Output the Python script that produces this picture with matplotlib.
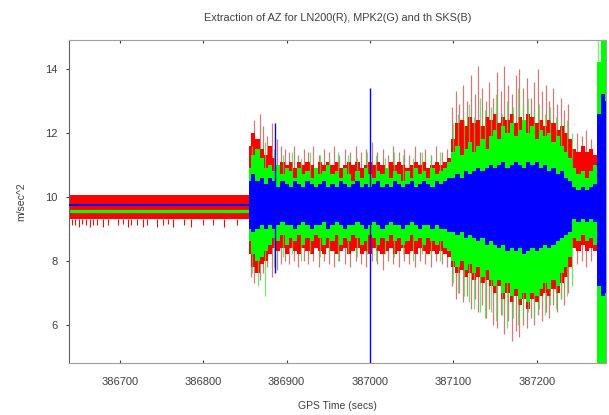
import matplotlib
matplotlib.use('Agg')
import matplotlib.pyplot as plt

plt.rcParams['font.family'] = ['Liberation Sans', 'DejaVu Sans']

# tempo GPS (s) das amostras do envelope na parte dinamica
tempos = [386855, 386860, 386865, 386870, 386875, 386880, 386885, 386890, 386895, 386900,
          386905, 386910, 386915, 386920, 386925, 386930, 386935, 386940, 386945, 386950,
          386955, 386960, 386965, 386970, 386975, 386980, 386985, 386990, 386995, 387000,
          387005, 387010, 387015, 387020, 387025, 387030, 387035, 387040, 387045, 387050,
          387055, 387060, 387065, 387070, 387075, 387080, 387085, 387090, 387095,
          387100, 387105, 387110, 387115, 387120, 387125, 387130, 387135, 387140, 387145,
          387150, 387155, 387160, 387165, 387170, 387175, 387180, 387185, 387190, 387195,
          387200, 387205, 387210, 387215, 387220, 387225, 387230, 387235, 387240,
          387245, 387250, 387255, 387260, 387265, 387270,
          387275, 387280, 387283]

# envelopes (m/sec^2) de cada sensor
sks_max = [10.5, 10.7, 10.5, 10.6, 10.4, 10.6, 10.5, 10.3, 10.5, 10.4,
           10.3, 10.5, 10.4, 10.3, 10.5, 10.4, 10.3, 10.4, 10.5, 10.3,
           10.4, 10.3, 10.5, 10.4, 10.3, 10.4, 10.5, 10.3, 10.4, 10.3,
           10.4, 10.5, 10.3, 10.4, 10.3, 10.5, 10.4, 10.3, 10.4, 10.5,
           10.3, 10.4, 10.5, 10.4, 10.3, 10.5, 10.4, 10.5, 10.6,
           10.6, 10.7, 10.6, 10.8, 10.7, 10.8, 10.9, 10.8, 10.9, 11.0,
           10.9, 11.0, 11.1, 10.9, 11.0, 11.1, 11.0, 10.9, 11.1, 11.0,
           11.1, 10.9, 11.0, 10.8, 10.9, 10.7, 10.8, 10.6, 10.5,
           10.3, 10.2, 10.3, 10.2, 10.3, 10.4,
           12.6, 13.2, 13.0]
sks_min = [9.0, 8.9, 9.0, 9.1, 9.0, 9.1, 9.0, 9.1, 9.2, 9.1,
           9.1, 9.0, 9.1, 9.2, 9.1, 9.0, 9.1, 9.1, 9.2, 9.0,
           9.1, 9.2, 9.1, 9.0, 9.1, 9.1, 9.2, 9.1, 9.0, 9.1,
           9.2, 9.1, 9.0, 9.1, 9.2, 9.1, 9.1, 9.0, 9.1, 9.2,
           9.1, 9.0, 9.1, 9.1, 9.0, 9.1, 9.0, 9.0, 8.9,
           8.9, 8.8, 8.9, 8.7, 8.8, 8.7, 8.6, 8.7, 8.5, 8.6,
           8.5, 8.4, 8.5, 8.3, 8.4, 8.3, 8.4, 8.2, 8.3, 8.4,
           8.3, 8.4, 8.5, 8.4, 8.5, 8.6, 8.7, 8.8, 8.9,
           9.3, 9.2, 9.3, 9.2, 9.3, 9.2,
           7.2, 6.9, 7.0]
mpk2_max = [10.9, 11.3, 11.5, 11.2, 10.9, 11.0, 10.8, 11.0, 10.7, 10.9,
            10.8, 10.6, 10.9, 10.7, 10.8, 10.6, 10.9, 10.7, 10.8, 11.0,
            10.7, 10.8, 10.6, 10.9, 10.7, 10.5, 10.8, 10.6, 10.9, 10.7,
            10.6, 10.8, 10.7, 10.9, 10.6, 10.8, 10.7, 10.5, 10.8, 10.6,
            10.9, 10.7, 10.8, 10.6, 10.9, 10.7, 10.8, 10.9, 11.1,
            11.4, 11.6, 11.3, 11.5, 11.7, 11.4, 11.6, 11.8, 11.5, 11.9,
            12.1, 11.8, 12.2, 12.0, 12.3, 11.9, 12.1, 12.4, 12.0, 12.2,
            11.8, 12.1, 11.9, 12.0, 11.7, 11.9, 11.6, 11.4, 11.2,
            10.9, 10.7, 10.8, 10.6, 10.8, 11.0,
            14.2, 14.9, 14.9]
mpk2_min = [8.6, 8.2, 8.0, 8.1, 8.3, 8.5, 8.7, 8.6, 8.8, 8.5,
            8.7, 8.6, 8.8, 8.5, 8.7, 8.6, 8.8, 8.7, 8.5, 8.7,
            8.6, 8.8, 8.5, 8.7, 8.6, 8.8, 8.7, 8.5, 8.6, 8.8,
            8.7, 8.5, 8.7, 8.6, 8.8, 8.6, 8.7, 8.5, 8.6, 8.8,
            8.6, 8.7, 8.5, 8.7, 8.6, 8.5, 8.6, 8.4, 8.3,
            8.0, 7.8, 8.0, 7.7, 7.9, 7.6, 7.8, 7.5, 7.7, 7.4,
            7.2, 7.4, 7.0, 7.3, 6.9, 7.1, 6.8, 7.0, 6.7, 7.0,
            6.9, 7.1, 7.3, 7.1, 7.4, 7.2, 7.6, 7.8, 8.1,
            8.7, 8.6, 8.8, 8.6, 8.7, 8.5,
            4.8, 4.8, 4.8]
ln200_max = [11.6, 12.0, 11.8, 11.5, 11.3, 11.6, 11.2, 11.0, 11.1, 11.0,
             11.1, 10.9, 11.1, 11.0, 11.1, 11.0, 10.9, 11.1, 11.0, 11.1,
             11.0, 11.1, 10.9, 11.0, 11.1, 11.0, 11.1, 10.9, 11.0, 11.1,
             11.0, 11.1, 11.0, 10.9, 11.1, 11.0, 11.1, 11.0, 10.9, 11.0,
             11.1, 11.0, 11.1, 10.9, 11.0, 11.1, 11.0, 11.1, 11.2,
             11.8, 12.3, 12.4, 12.2, 12.5, 12.3, 12.4, 12.2, 12.5, 12.4,
             12.6, 12.3, 12.5, 12.4, 12.6, 12.3, 12.5, 12.4, 12.6, 12.5,
             12.3, 12.4, 12.2, 12.4, 12.3, 12.1, 12.2, 12.0, 11.8,
             11.5, 11.4, 11.6, 11.4, 11.5, 11.3,
             11.2, 11.0, 11.0]
ln200_min = [8.2, 7.8, 7.6, 7.9, 8.0, 8.2, 8.4, 8.3, 8.4, 8.2,
             8.4, 8.3, 8.2, 8.4, 8.3, 8.2, 8.4, 8.3, 8.2, 8.4,
             8.3, 8.2, 8.3, 8.4, 8.2, 8.3, 8.4, 8.2, 8.3, 8.2,
             8.4, 8.3, 8.2, 8.3, 8.4, 8.2, 8.3, 8.4, 8.2, 8.3,
             8.2, 8.4, 8.3, 8.2, 8.3, 8.2, 8.3, 8.2, 8.1,
             7.8, 7.6, 7.7, 7.5, 7.6, 7.4, 7.5, 7.3, 7.4, 7.2,
             7.0, 7.2, 6.8, 7.0, 6.7, 6.9, 6.6, 6.8, 6.5, 6.8,
             6.7, 6.9, 7.0, 6.9, 7.1, 7.0, 7.3, 7.5, 7.8,
             8.4, 8.3, 8.5, 8.3, 8.4, 8.3,
             8.0, 8.0, 8.0]

# trecho parado (antes de 386855)
parado_t = [386639, 386855]
ln200_parado = (9.3, 10.05)
mpk2_parado = 9.56
sks_parado = 9.75
ln200_parado_picos_t = [386642, 386646, 386651, 386654, 386659, 386664, 386668, 386672,
                        386680, 386686, 386698, 386704, 386710, 386713, 386721, 386728,
                        386733, 386745, 386752, 386758, 386764, 386777, 386785, 386800,
                        386812, 386825, 386840]
ln200_parado_picos_v = [9.1, 9.1, 9.05, 9.15, 9.1, 9.05, 9.1, 9.1,
                        9.05, 9.1, 9.1, 9.15, 9.05, 9.1, 9.1, 9.05,
                        9.1, 9.05, 9.1, 9.15, 9.05, 9.1, 9.05, 9.1,
                        9.1, 9.05, 9.1]

# picos do LN200 (vermelho)
ln200_picos_t = [386857, 386861, 386864, 386868, 386872, 386877, 386882, 386888, 386893,
                 386898, 386903, 386909, 386914, 386921, 386926, 386932, 386939, 386945,
                 386951, 386957, 386963, 386970, 386976, 386983, 386989, 386995, 387003,
                 387009, 387016, 387022, 387028, 387035, 387041, 387047, 387054, 387060,
                 387066, 387073, 387079, 387086, 387092,
                 387098, 387103, 387107, 387112, 387116, 387121, 387126, 387130, 387134,
                 387139, 387143, 387148, 387152, 387157, 387161, 387166, 387170, 387175,
                 387179, 387184, 387188, 387193, 387197, 387202, 387206, 387211, 387215,
                 387220, 387224, 387229, 387233, 387238,
                 387248, 387254, 387259, 387265]
ln200_picos_max = [12.0, 12.4, 11.8, 12.6, 12.2, 11.9, 12.3, 11.8, 11.6,
                   11.5, 11.4, 11.6, 11.3, 11.5, 11.4, 11.6, 11.3, 11.5,
                   11.4, 11.6, 11.3, 11.5, 11.4, 11.6, 11.4, 11.5, 11.7,
                   11.4, 11.5, 11.3, 11.6, 11.4, 11.5, 11.3, 11.6, 11.4,
                   11.5, 11.3, 11.6, 11.4, 11.5,
                   12.8, 13.3, 12.9, 13.5, 13.0, 13.8, 13.2, 14.1, 13.4,
                   13.0, 13.6, 13.1, 13.9, 13.3, 14.1, 13.5, 13.2, 13.8,
                   14.0, 13.4, 13.7, 13.1, 13.6, 14.0, 13.3, 13.5, 13.0,
                   13.4, 12.9, 13.1, 12.7, 12.9,
                   12.0, 11.9, 12.1, 11.8]
ln200_picos_min = [7.5, 7.3, 7.7, 7.4, 7.6, 7.8, 7.5, 7.7, 7.9,
                   8.0, 7.9, 8.0, 7.8, 8.0, 7.9, 8.0, 7.8, 8.0,
                   7.9, 7.8, 8.0, 7.9, 7.8, 8.0, 7.9, 7.8, 8.0,
                   7.9, 7.7, 8.0, 7.9, 7.8, 8.0, 7.9, 7.8, 8.0,
                   7.9, 7.8, 8.0, 7.9, 7.8,
                   7.2, 6.8, 7.0, 6.7, 6.9, 6.5, 6.8, 6.4, 6.6,
                   6.2, 6.5, 6.0, 5.9, 6.3, 5.7, 6.1, 5.5, 5.8,
                   5.6, 6.0, 5.9, 6.2, 6.0, 6.3, 6.1, 6.4, 6.2,
                   6.6, 6.4, 6.8, 6.6, 7.0,
                   7.9, 8.0, 7.8, 8.0]

# picos do MPK2 (verde)
mpk2_picos_t = [386858, 386866, 386874, 386885, 386896, 386906, 386917, 386928, 386940,
                386951, 386962, 386974, 386985, 386996, 387007, 387018, 387029, 387040,
                387051, 387062, 387073, 387084,
                387100, 387106, 387113, 387119, 387125, 387132, 387138, 387145, 387151,
                387158, 387164, 387171, 387177, 387184, 387190, 387197, 387203, 387210,
                387216, 387223, 387229, 387236, 387242]
mpk2_picos_max = [11.6, 11.4, 11.7, 11.5, 11.3, 11.4, 11.2, 11.4, 11.3,
                  11.2, 11.4, 11.3, 11.2, 11.4, 11.3, 11.2, 11.4, 11.3,
                  11.2, 11.4, 11.3, 11.4,
                  12.3, 12.6, 12.4, 12.9, 12.5, 13.1, 12.7, 12.8, 13.2,
                  12.6, 13.0, 12.8, 13.4, 12.9, 13.1, 12.7, 12.9, 12.6,
                  12.8, 12.5, 12.3, 12.4, 12.0]
mpk2_picos_min = [7.6, 7.2, 6.9, 7.8, 8.1, 8.2, 8.0, 8.2, 8.1,
                  8.2, 8.0, 8.2, 8.1, 8.2, 8.0, 8.2, 8.1, 8.2,
                  8.0, 8.2, 8.1, 8.0,
                  7.3, 7.0, 6.9, 6.7, 6.5, 6.4, 6.2, 6.4, 6.1,
                  6.3, 5.9, 6.2, 6.0, 6.2, 6.4, 6.2, 6.5, 6.3,
                  6.6, 6.5, 6.8, 6.9, 7.2]
mpk2_borda_t = [387273, 387277, 387280, 387282]

# picos isolados do SKS
sks_picos_t = [386886, 387000]
sks_picos_max = [12.3, 13.4]
sks_picos_min = [7.6, 4.0]

fig = plt.figure(figsize=(6.09, 4.15), dpi=100)
ax = fig.add_axes([0.1133, 0.1253, 0.8817, 0.7783])

# LN200 - vermelho (camada de baixo)
ax.fill_between(parado_t, ln200_parado[0], ln200_parado[1], color='#ff0000', lw=0, zorder=1.0)
ax.vlines(ln200_parado_picos_t, ln200_parado[0], ln200_parado_picos_v, color='#e01010',
          lw=0.8, zorder=0.9)
ax.vlines(ln200_picos_t, ln200_picos_min, ln200_picos_max, color='#b84444', lw=0.9,
          alpha=0.7, zorder=0.9)
ax.fill_between(tempos, ln200_min, ln200_max, step='mid', color='#ff0000', lw=0, zorder=1.0)

# MPK2 - verde
ax.vlines(mpk2_picos_t, mpk2_picos_min, mpk2_picos_max, color='#40e040', lw=0.9,
          alpha=0.75, zorder=1.9)
ax.vlines(mpk2_borda_t, 4.8, 14.9, color='#80f080', lw=1.0, zorder=1.9)
ax.fill_between(tempos, mpk2_min, mpk2_max, step='mid', color='#00ff00', lw=0, zorder=2.0)
ax.plot(parado_t, [mpk2_parado, mpk2_parado], color='#00ff00', lw=2.3, zorder=2.0)

# SKS - azul (camada de cima)
ax.vlines(sks_picos_t, sks_picos_min, sks_picos_max, color='#0000ff', lw=1.0, zorder=2.9)
ax.fill_between(tempos, sks_min, sks_max, step='mid', color='#0000ff', lw=0, zorder=3.0)
ax.plot(parado_t, [sks_parado, sks_parado], color='#0000ff', lw=1.4, zorder=3.0)

ax.set_xlim(386639, 387283)
ax.set_ylim(4.8, 14.9)
ax.set_xticks([386700, 386800, 386900, 387000, 387100, 387200])
ax.set_yticks([6, 8, 10, 12, 14])
ax.ticklabel_format(useOffset=False, style='plain')

for lado in ['top', 'right', 'bottom']:
    ax.spines[lado].set_color('#a0a0a0')
ax.spines['left'].set_color('#606060')
ax.tick_params(axis='x', direction='in', length=2, top=True, labelsize=8,
               colors='#404040', pad=10)
ax.tick_params(axis='y', direction='out', length=2, labelsize=8,
               colors='#404040', pad=6)

ax.set_title('Extraction of AZ for LN200(R), MPK2(G) and th SKS(B)',
             fontsize=7.8, color='#404040', pad=14)
ax.set_xlabel('GPS Time (secs)', fontsize=7.5, color='#404040', labelpad=10)
ax.set_ylabel('m/sec^2', fontsize=7.5, color='#404040', labelpad=14)

fig.savefig('out.png', dpi=100)
